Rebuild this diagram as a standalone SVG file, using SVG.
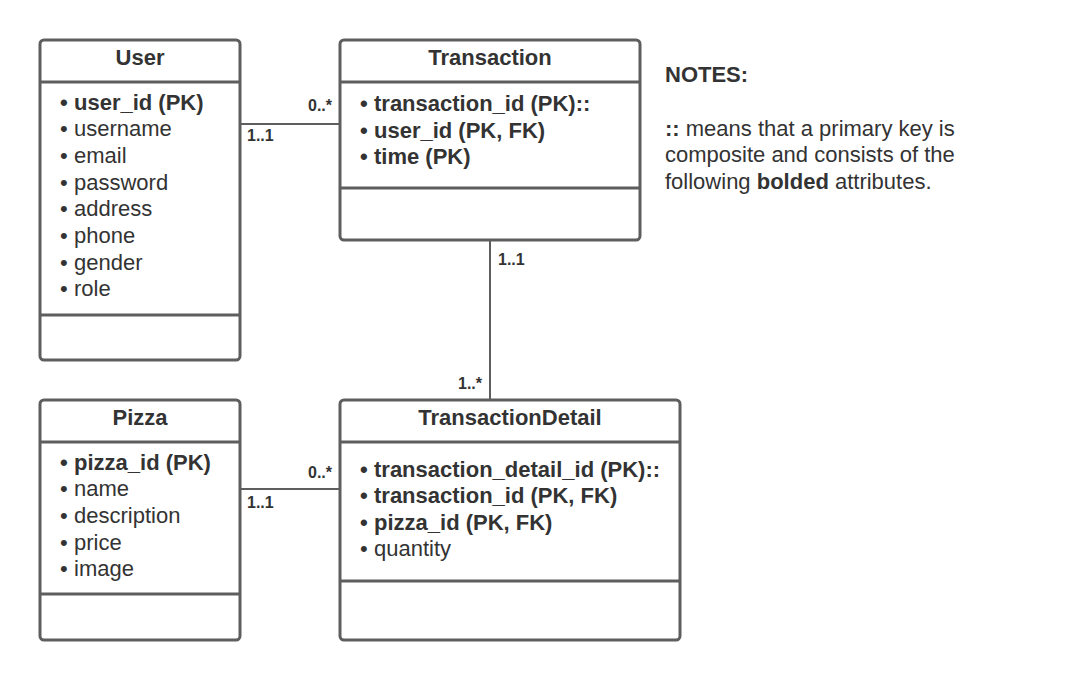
<svg xmlns="http://www.w3.org/2000/svg" width="1080" height="680" viewBox="0 0 1080 680">
  <style>
    .box { fill: #ffffff; stroke: #5e5e5e; stroke-width: 3; }
    .div { stroke: #5e5e5e; stroke-width: 3; }
    .conn { stroke: #5e5e5e; stroke-width: 2; fill: none; }
    text { font-family: "Liberation Sans", Arial, sans-serif; fill: #333333; }
    .title { font-size: 22px; font-weight: bold; text-anchor: middle; }
    .attr { font-size: 22px; }
    .pk { font-weight: bold; }
    .mult { font-size: 16px; font-weight: bold; }
    .note { font-size: 22px; }
  </style>
  <rect width="1080" height="680" fill="#ffffff"/>

  <!-- relationship lines -->
  <g id="connectors">
    <line class="conn" x1="240" y1="124" x2="340" y2="124"/>
    <text class="mult" x="332" y="111" text-anchor="end">0..*</text>
    <text class="mult" x="247" y="141">1..1</text>

    <line class="conn" x1="490" y1="240" x2="490" y2="400"/>
    <text class="mult" x="498" y="265">1..1</text>
    <text class="mult" x="482" y="389" text-anchor="end">1..*</text>

    <line class="conn" x1="240" y1="489" x2="340" y2="489"/>
    <text class="mult" x="332" y="478" text-anchor="end">0..*</text>
    <text class="mult" x="247" y="508">1..1</text>
  </g>

  <g id="user">
    <rect class="box" x="40" y="40" width="200" height="320" rx="4"/>
    <line class="div" x1="40" y1="82" x2="240" y2="82"/>
    <line class="div" x1="40" y1="315" x2="240" y2="315"/>
    <text class="title" x="140" y="65">User</text>
    <text class="attr pk" y="110"><tspan x="60">•</tspan><tspan x="74">user_id (PK)</tspan></text>
    <text class="attr" y="136"><tspan x="60">•</tspan><tspan x="74">username</tspan></text>
    <text class="attr" y="163"><tspan x="60">•</tspan><tspan x="74">email</tspan></text>
    <text class="attr" y="190"><tspan x="60">•</tspan><tspan x="74">password</tspan></text>
    <text class="attr" y="216"><tspan x="60">•</tspan><tspan x="74">address</tspan></text>
    <text class="attr" y="243"><tspan x="60">•</tspan><tspan x="74">phone</tspan></text>
    <text class="attr" y="270"><tspan x="60">•</tspan><tspan x="74">gender</tspan></text>
    <text class="attr" y="296"><tspan x="60">•</tspan><tspan x="74">role</tspan></text>
  </g>

  <g id="transaction">
    <rect class="box" x="340" y="40" width="300" height="200" rx="4"/>
    <line class="div" x1="340" y1="82" x2="640" y2="82"/>
    <line class="div" x1="340" y1="188" x2="640" y2="188"/>
    <text class="title" x="490" y="65">Transaction</text>
    <text class="attr pk" y="111"><tspan x="360">•</tspan><tspan x="374">transaction_id (PK)::</tspan></text>
    <text class="attr pk" y="138"><tspan x="360">•</tspan><tspan x="374">user_id (PK, FK)</tspan></text>
    <text class="attr pk" y="164"><tspan x="360">•</tspan><tspan x="374">time (PK)</tspan></text>
  </g>

  <g id="pizza">
    <rect class="box" x="40" y="400" width="200" height="240" rx="4"/>
    <line class="div" x1="40" y1="442" x2="240" y2="442"/>
    <line class="div" x1="40" y1="594" x2="240" y2="594"/>
    <text class="title" x="140" y="425">Pizza</text>
    <text class="attr pk" y="470"><tspan x="60">•</tspan><tspan x="74">pizza_id (PK)</tspan></text>
    <text class="attr" y="496"><tspan x="60">•</tspan><tspan x="74">name</tspan></text>
    <text class="attr" y="523"><tspan x="60">•</tspan><tspan x="74">description</tspan></text>
    <text class="attr" y="550"><tspan x="60">•</tspan><tspan x="74">price</tspan></text>
    <text class="attr" y="576"><tspan x="60">•</tspan><tspan x="74">image</tspan></text>
  </g>

  <g id="transaction-detail">
    <rect class="box" x="340" y="400" width="340" height="240" rx="4"/>
    <line class="div" x1="340" y1="442" x2="680" y2="442"/>
    <line class="div" x1="340" y1="581" x2="680" y2="581"/>
    <text class="title" x="510" y="425">TransactionDetail</text>
    <text class="attr pk" y="477"><tspan x="360">•</tspan><tspan x="374">transaction_detail_id (PK)::</tspan></text>
    <text class="attr pk" y="503"><tspan x="360">•</tspan><tspan x="374">transaction_id (PK, FK)</tspan></text>
    <text class="attr pk" y="530"><tspan x="360">•</tspan><tspan x="374">pizza_id (PK, FK)</tspan></text>
    <text class="attr" y="556"><tspan x="360">•</tspan><tspan x="374">quantity</tspan></text>
  </g>

  <g id="notes">
    <text class="note pk" x="665" y="82">NOTES:</text>
    <text class="note" x="665" y="136"><tspan font-weight="bold">::</tspan> means that a primary key is</text>
    <text class="note" x="665" y="162">composite and consists of the</text>
    <text class="note" x="665" y="189">following <tspan font-weight="bold">bolded</tspan> attributes.</text>
  </g>
</svg>
